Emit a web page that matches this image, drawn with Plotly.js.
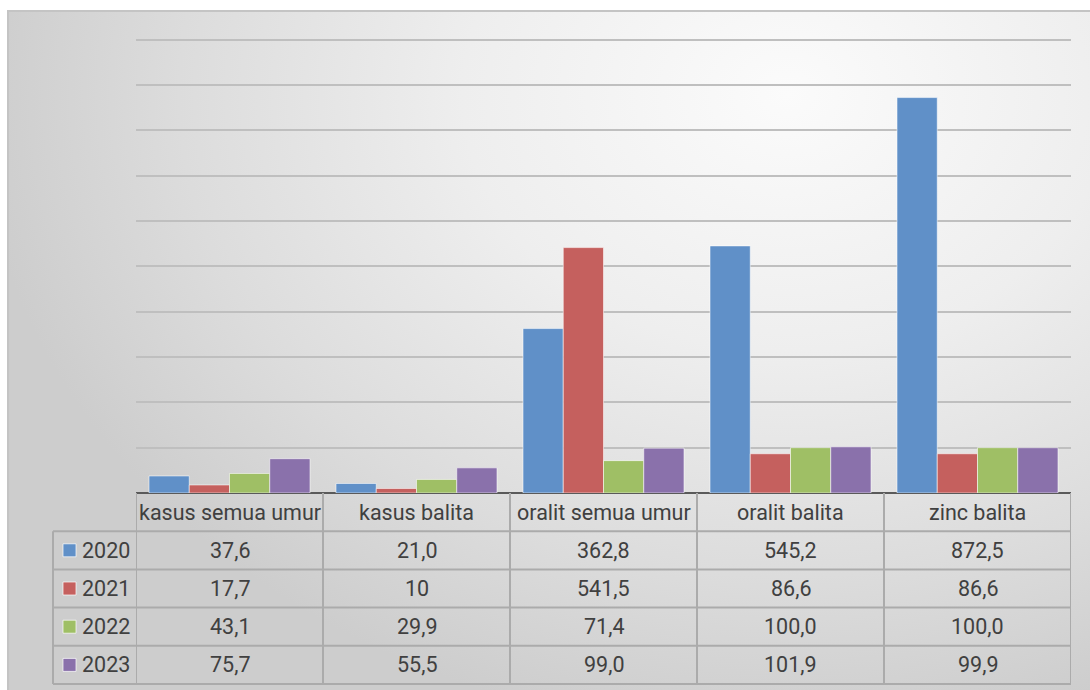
<!DOCTYPE html>
<html>
<head>
<meta charset="utf-8">
<script src="https://cdn.plot.ly/plotly-3.0.1.min.js"></script>
<style>
  html, body { margin:0; padding:0; background:#ffffff; }
  #wrap { position:relative; width:1090px; height:690px; overflow:hidden; }
  #bg { position:absolute; left:7px; top:10px; width:1083px; height:680px;
        border-top:2px solid #c4c4c4; border-left:2px solid #c4c4c4; box-sizing:border-box;
        background: radial-gradient(ellipse 75% 95% at 72% 12%, #fbfbfb 0%, #eeeeee 40%, #dcdcdc 75%, #cdcdcd 100%); }
  #chart { position:absolute; left:0; top:0; width:1090px; height:690px; }
</style>
</head>
<body>
<div id="wrap"><div id="bg"></div><div id="chart"></div></div>
<script>
// ---- data ----
const categories = ["kasus semua umur", "kasus balita", "oralit semua umur", "oralit balita", "zinc balita"];
const years = ["2020", "2021", "2022", "2023"];
const v2020 = [37.6, 21.0, 362.8, 545.2, 872.5];
const v2021 = [17.7, 10, 541.5, 86.6, 86.6];
const v2022 = [43.1, 29.9, 71.4, 100.0, 100.0];
const v2023 = [75.7, 55.5, 99.0, 101.9, 99.9];
const labels2020 = ["37,6", "21,0", "362,8", "545,2", "872,5"];
const labels2021 = ["17,7", "10", "541,5", "86,6", "86,6"];
const labels2022 = ["43,1", "29,9", "71,4", "100,0", "100,0"];
const labels2023 = ["75,7", "55,5", "99,0", "101,9", "99,9"];

const seriesValues = [v2020, v2021, v2022, v2023];
const seriesLabels = [labels2020, labels2021, labels2022, labels2023];
const colors = ["#6090c8", "#c5605e", "#9fbf65", "#8a71ab"];

// ---- layout geometry ----
const W = 1090, H = 690;
const M = {l:136, r:19, t:38, b:197};
const plotW = W - M.l - M.r, plotH = H - M.t - M.b;
const rowH = 38.2;
const legendColW = 83;
const textColor = "#404040";
const font = "Roboto, 'Open Sans', sans-serif";
const py = (px) => -px / plotH;            // pixels below axis -> paper y
const pxX = (px) => px / plotW;            // pixels -> paper x

const traces = years.map((yr, i) => ({
  type: "bar",
  name: yr,
  x: categories,
  y: seriesValues[i],
  marker: { color: colors[i], line: { color: "rgba(255,255,255,0.55)", width: 1 } },
  hoverinfo: "x+y+name"
}));

const shapes = [];
const annotations = [];
const gridColor = "#ababab";
const nRows = years.length;
const tableBottom = py((nRows + 1) * rowH);

// vertical lines of table (category boundaries)
for (let i = 0; i <= categories.length; i++) {
  shapes.push({type:"line", xref:"x", yref:"paper", x0:i-0.5, x1:i-0.5,
    y0:0, y1:tableBottom, line:{color:gridColor, width:2}});
}
// legend column left edge
shapes.push({type:"line", xref:"paper", yref:"paper", x0:-pxX(legendColW), x1:-pxX(legendColW),
  y0:py(rowH), y1:tableBottom, line:{color:gridColor, width:2}});
// horizontal lines
for (let r = 1; r <= nRows + 1; r++) {
  shapes.push({type:"line", xref:"paper", yref:"paper", x0:-pxX(legendColW), x1:1,
    y0:py(r*rowH), y1:py(r*rowH), line:{color:gridColor, width:2}});
}
// header labels
categories.forEach((c) => {
  annotations.push({xref:"x", yref:"paper", x:c, y:py(rowH/2), text:c, showarrow:false,
    yanchor:"middle", xanchor:"center", font:{family:font, size:21.5, color:textColor}});
});
// rows
years.forEach((yr, r) => {
  const yc = py((r + 1.5) * rowH);
  // legend key square
  shapes.push({type:"rect", xref:"paper", yref:"paper",
    x0:-pxX(legendColW - 10), x1:-pxX(legendColW - 23),
    y0:yc - 6.5/plotH, y1:yc + 6.5/plotH,
    fillcolor:colors[r], line:{color:"rgba(255,255,255,0.7)", width:1}});
  annotations.push({xref:"paper", yref:"paper", x:-pxX(legendColW - 27), y:yc, text:yr, showarrow:false,
    xanchor:"left", yanchor:"middle", font:{family:font, size:21.5, color:textColor}});
  categories.forEach((c, k) => {
    annotations.push({xref:"x", yref:"paper", x:c, y:yc, text:seriesLabels[r][k], showarrow:false,
      xanchor:"center", yanchor:"middle", font:{family:font, size:21.5, color:textColor}});
  });
});

const layout = {
  width: W, height: H,
  margin: M,
  paper_bgcolor: "rgba(0,0,0,0)",
  plot_bgcolor: "rgba(0,0,0,0)",
  barmode: "group",
  bargap: 0.139,
  bargroupgap: 0,
  showlegend: false,
  xaxis: { type:"category", range:[-0.5, categories.length - 0.5], showticklabels:false,
           showgrid:false, zeroline:false, showline:false, ticks:"", fixedrange:true },
  yaxis: { range:[0, 1004], tick0:0, dtick:100, showticklabels:false, ticks:"",
           showgrid:true, gridcolor:"#bfbfbf", gridwidth:2,
           zeroline:true, zerolinecolor:"#5a5a5a", zerolinewidth:2, showline:false, fixedrange:true },
  shapes: shapes,
  annotations: annotations
};

Plotly.newPlot("chart", traces, layout, {displayModeBar:false, staticPlot:true});
</script>
</body>
</html>
